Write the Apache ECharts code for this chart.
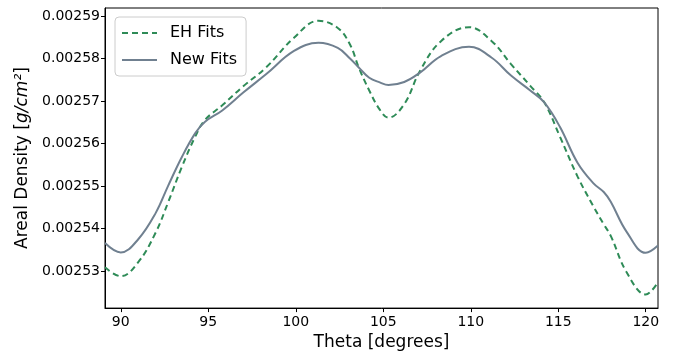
<!DOCTYPE html>
<html>
<head>
<meta charset="utf-8">
<script src="https://cdn.jsdelivr.net/npm/echarts@6/dist/echarts.min.js"></script>
<style>
  html, body { margin: 0; padding: 0; background: #fff; }
  #chart { width: 677px; height: 356px; }
</style>
</head>
<body>
<div id="chart"></div>
<script>
// theta 取样点（度）
var theta = [89.1, 90.0, 91.0, 92.0, 92.7, 93.5, 94.25, 94.8, 95.8, 97.0, 98.3, 99.9,
  101.3, 102.4, 103.1, 103.6, 104.2, 104.8, 105.3, 106.2, 107.1, 108.3, 109.9, 111.2,
  112.3, 113.4, 114.2, 115.1, 116.1, 117.0, 117.6, 118.0, 118.9, 120.0, 120.7]
// 面密度 (g/cm^2)
var ehFits = [0.0025309, 0.0025288, 0.0025321, 0.0025391, 0.0025461, 0.0025546, 0.0025616, 0.0025655,
  0.0025690, 0.0025735, 0.0025779, 0.0025849, 0.0025889, 0.0025872, 0.0025833, 0.0025779,
  0.0025725, 0.0025680, 0.0025661, 0.0025693, 0.0025771, 0.0025841, 0.0025874, 0.0025841,
  0.0025787, 0.0025736, 0.0025697, 0.0025616, 0.0025523, 0.0025453, 0.0025410, 0.0025383,
  0.0025298, 0.0025245, 0.0025274]
var newFits = [0.0025366, 0.0025344, 0.0025375, 0.0025437, 0.0025500, 0.0025569, 0.0025624, 0.0025651,
  0.0025678, 0.0025720, 0.0025763, 0.0025818, 0.0025837, 0.0025825, 0.0025800, 0.0025779,
  0.0025755, 0.0025744, 0.0025738, 0.0025745, 0.0025767, 0.0025806, 0.0025828, 0.0025802,
  0.0025760, 0.0025725, 0.0025697, 0.0025639, 0.0025555, 0.0025507, 0.0025486, 0.0025463,
  0.0025393, 0.0025343, 0.0025360]
var xRange = [89.1, 120.7]
var yRange = [0.0025213, 0.0025919]

function pairs (xs, ys) {
  return xs.map(function (x, i) { return [x, ys[i]] })
}

var font = 'DejaVu Sans'
var myChart = echarts.init(document.getElementById('chart'), null, { renderer: 'canvas' })
var option = {
  backgroundColor: '#fff',
  animation: false,
  textStyle: { fontFamily: font, color: '#000' },
  grid: {
    left: 105,
    right: 19,
    top: 8,
    bottom: 45,
    show: true,
    borderColor: '#000',
    borderWidth: 1
  },
  legend: {
    orient: 'vertical',
    left: 115,
    top: 17,
    padding: [8, 9, 8, 6],
    itemWidth: 35,
    itemHeight: 14,
    itemGap: 11,
    borderColor: '#ccc',
    borderWidth: 1,
    borderRadius: 4,
    itemStyle: { opacity: 0 }, // 图例里不画圆点
    textStyle: { fontFamily: font, fontSize: 16, color: '#000', padding: [0, 0, 0, 8] },
    data: ['EH Fits', 'New Fits']
  },
  xAxis: {
    type: 'value',
    min: xRange[0],
    max: xRange[1],
    splitNumber: 6,
    name: 'Theta [degrees]',
    nameLocation: 'middle',
    nameGap: 25,
    nameTextStyle: { fontFamily: font, fontSize: 17, color: '#000' },
    axisLine: { show: true, lineStyle: { color: '#000', width: 1 } },
    axisTick: { show: true, length: 4, lineStyle: { color: '#000' } },
    splitLine: { show: false },
    axisLabel: {
      fontFamily: font,
      fontSize: 14,
      color: '#000',
      margin: 7,
      showMinLabel: false,
      showMaxLabel: false,
      formatter: function (v) {
        return Math.abs(v / 5 - Math.round(v / 5)) < 1e-6 ? String(Math.round(v)) : ''
      }
    }
  },
  yAxis: {
    type: 'value',
    min: yRange[0],
    max: yRange[1],
    splitNumber: 7,
    scale: true,
    name: 'Areal Density [{i|g/cm²}]',
    nameLocation: 'middle',
    nameRotate: 90,
    nameGap: 68,
    nameTextStyle: {
      fontFamily: font,
      fontSize: 17,
      color: '#000',
      rich: {
        i: { fontFamily: font, fontSize: 17, fontStyle: 'italic', color: '#000' }
      }
    },
    axisLine: { show: true, lineStyle: { color: '#000', width: 1 } },
    axisTick: { show: true, length: 4, lineStyle: { color: '#000' } },
    splitLine: { show: false },
    axisLabel: {
      fontFamily: font,
      fontSize: 14,
      color: '#000',
      margin: 5,
      showMinLabel: false,
      showMaxLabel: false,
      formatter: function (v) {
        var k = v / 0.00001
        return Math.abs(k - Math.round(k)) < 1e-4 ? v.toFixed(5) : ''
      }
    }
  },
  series: [
    {
      name: 'EH Fits',
      type: 'line',
      smooth: 0.4,
      showSymbol: false,
      symbol: 'none',
      color: '#2e8b57',
      lineStyle: { color: '#2e8b57', width: 2, type: [6, 4] },
      data: pairs(theta, ehFits)
    },
    {
      name: 'New Fits',
      type: 'line',
      smooth: 0.4,
      showSymbol: false,
      symbol: 'none',
      color: '#708090',
      lineStyle: { color: '#708090', width: 2 },
      data: pairs(theta, newFits)
    }
  ]
}
myChart.setOption(option)
</script>
</body>
</html>
